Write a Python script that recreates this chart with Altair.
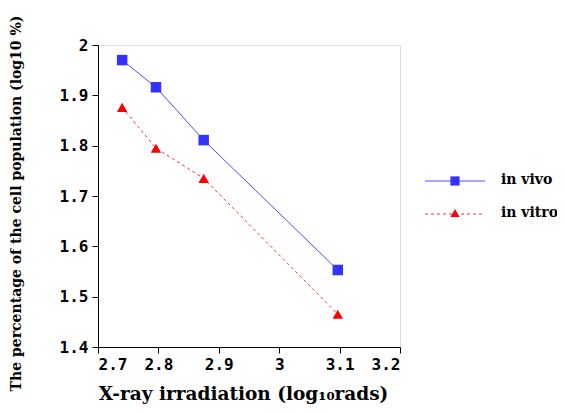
import altair as alt
import pandas as pd

dose = [2.74, 2.796, 2.875, 3.097]
in_vivo = [1.970, 1.916, 1.811, 1.553]
in_vitro = [1.876, 1.795, 1.735, 1.465]
series = ["in vivo", "in vitro"]

df = pd.DataFrame({
    "dose": dose * 2,
    "value": in_vivo + in_vitro,
    "series": [series[0]] * 4 + [series[1]] * 4,
})

FONT = "DejaVu Serif"
MONO = "DejaVu Sans Mono"
blue_line = "#4d4dff"
blue_pt = "#3333ff"
red_line = "#ff3030"
red_pt = "#ff0000"

xs = alt.Scale(domain=[2.7, 3.2], nice=False, zero=False)
ys = alt.Scale(domain=[1.4, 2.0], nice=False, zero=False)

xax = alt.Axis(values=[2.7, 2.8, 2.9, 3.0, 3.1, 3.2], grid=False, domainColor="black",
               tickColor="black", tickSize=6, labelFont=MONO, labelFontWeight="bold",
               labelFontSize=16, labelColor="black", labelPadding=3,
               labelExpr="format(datum.value, '.1~f')",
               title="X-ray irradiation (log₁₀rads)", titleFont=FONT, titleFontSize=18.5,
               titleFontWeight="bold", titleColor="black", titleX=145, titleY=46,
               titleBaseline="middle", titleAlign="center")
yax = alt.Axis(values=[1.4, 1.5, 1.6, 1.7, 1.8, 1.9, 2.0], grid=False, domainColor="black",
               tickColor="black", tickSize=6, labelFont=MONO, labelFontWeight="bold",
               labelFontSize=16, labelColor="black", labelPadding=4,
               labelExpr="format(datum.value, '.1~f')",
               title="The percentage of the cell population (log10 %)", titleFont=FONT,
               titleFontSize=14, titleFontWeight="bold", titleColor="black",
               titleX=-82, titleY=158, titleAngle=-90, titleBaseline="middle",
               titleAlign="center")

base = alt.Chart(df)

vivo = base.transform_filter(alt.datum.series == series[0])
vitro = base.transform_filter(alt.datum.series == series[1])

l1 = vivo.mark_line(color=blue_line, strokeWidth=1).encode(
    x=alt.X("dose:Q", scale=xs, axis=xax), y=alt.Y("value:Q", scale=ys, axis=yax))
p1 = vivo.mark_point(shape="square", filled=True, color=blue_pt, size=110, opacity=1).encode(
    x=alt.X("dose:Q", scale=xs), y=alt.Y("value:Q", scale=ys))
l2 = vitro.mark_line(color=red_line, strokeWidth=1, strokeDash=[3, 3]).encode(
    x=alt.X("dose:Q", scale=xs), y=alt.Y("value:Q", scale=ys))
p2 = vitro.mark_point(shape="triangle-up", filled=True, color=red_pt, size=110, opacity=1).encode(
    x=alt.X("dose:Q", scale=xs), y=alt.Y("value:Q", scale=ys))

leg = pd.DataFrame({"series": series})
leg_vivo = alt.Chart(leg).transform_filter(alt.datum.series == series[0])
leg_vitro = alt.Chart(leg).transform_filter(alt.datum.series == series[1])

lg1 = leg_vivo.mark_rule(color=blue_line, strokeWidth=1).encode(
    x=alt.value(327), x2=alt.value(387), y=alt.value(136))
lg1p = leg_vivo.mark_point(shape="square", filled=True, color=blue_pt, size=85, opacity=1).encode(
    x=alt.value(357), y=alt.value(136))
lg1t = leg_vivo.mark_text(align="left", baseline="middle", font=FONT, fontSize=14,
                          fontWeight="bold", color="black").encode(
    x=alt.value(403), y=alt.value(135), text="series:N")
lg2 = leg_vitro.mark_rule(color=red_line, strokeWidth=1, strokeDash=[3, 3]).encode(
    x=alt.value(327), x2=alt.value(387), y=alt.value(169))
lg2p = leg_vitro.mark_point(shape="triangle-up", filled=True, color=red_pt, size=85, opacity=1).encode(
    x=alt.value(357), y=alt.value(168))
lg2t = leg_vitro.mark_text(align="left", baseline="middle", font=FONT, fontSize=14,
                           fontWeight="bold", color="black").encode(
    x=alt.value(403), y=alt.value(168), text="series:N")

chart = alt.layer(l1, l2, p1, p2, lg1, lg1p, lg1t, lg2, lg2p, lg2t).properties(
    width=302, height=302,
    autosize=alt.AutoSizeParams(type="none"),
    padding={"left": 90, "top": 37, "right": 157, "bottom": 59},
).configure_view(stroke="black", strokeWidth=1).configure(background="white")

chart.save("out.html", embed_options={"renderer": "svg", "actions": False})
